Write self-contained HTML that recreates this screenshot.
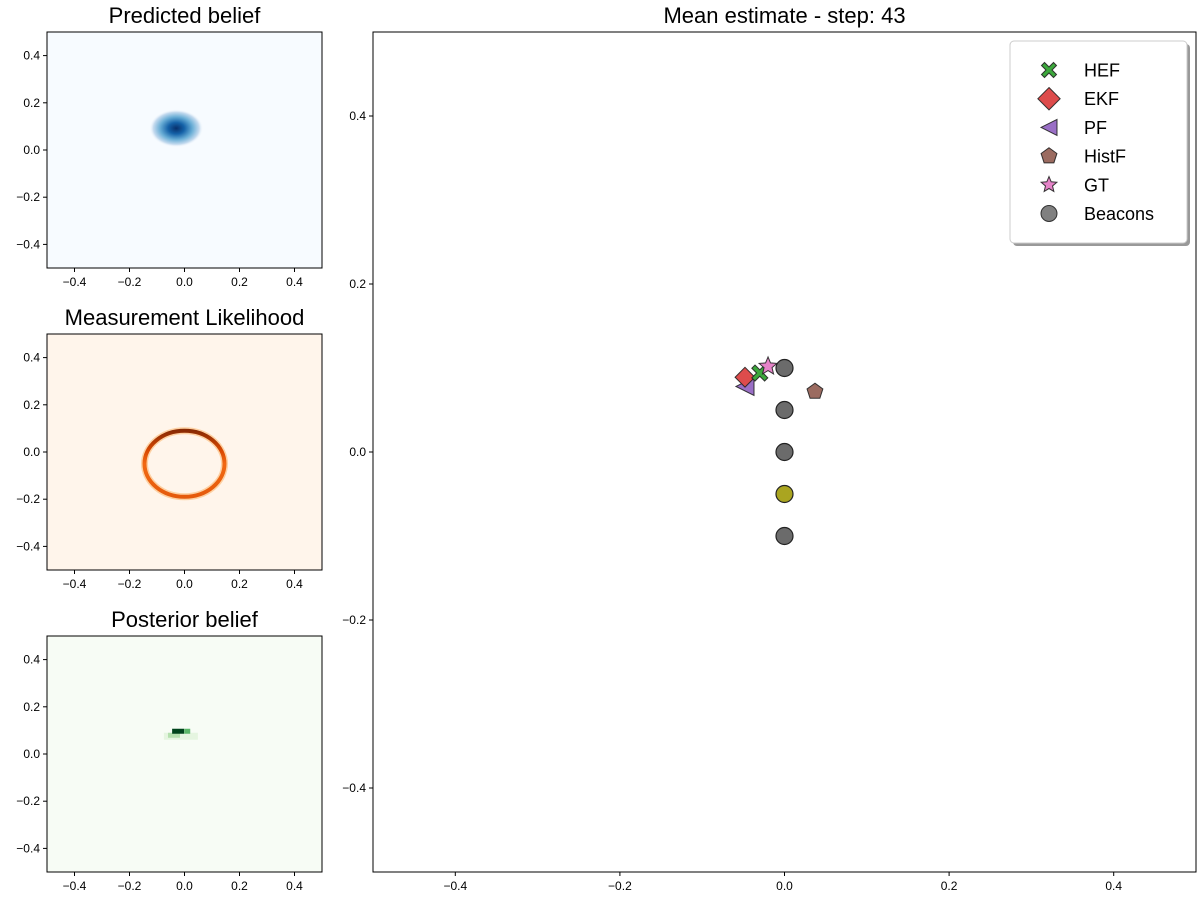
<!DOCTYPE html>
<html><head><meta charset="utf-8">
<style>
html,body{margin:0;padding:0;background:#fff;}
svg{display:block;font-family:"Liberation Sans","DejaVu Sans",sans-serif;}
</style></head>
<body>
<svg id="fig" width="1200" height="900" viewBox="0 0 1200 900" xmlns="http://www.w3.org/2000/svg">
<defs>
  <radialGradient id="gBlue" cx="50%" cy="50%" r="50%">
    <stop offset="0" stop-color="#08306b"/>
    <stop offset="0.3" stop-color="#1562a8"/>
    <stop offset="0.6" stop-color="#6aaed6"/>
    <stop offset="0.85" stop-color="#c6dbef"/>
    <stop offset="1" stop-color="#f7fbff" stop-opacity="0"/>
  </radialGradient>
  <linearGradient id="gRing" x1="0" y1="0" x2="0" y2="1">
    <stop offset="0" stop-color="#8a2a03"/>
    <stop offset="0.3" stop-color="#d94801"/>
    <stop offset="0.5" stop-color="#f16913"/>
    <stop offset="1" stop-color="#e55a0c"/>
  </linearGradient>
  <filter id="shadow" x="-10%" y="-10%" width="130%" height="130%">
    <feOffset dx="3" dy="3"/>
  </filter>
</defs>
<g id="root"></g>
</svg>
<script>
// ---- data ----
const smallTicks = [-0.4, -0.2, 0.0, 0.2, 0.4];
const smallTickLabels = ["\u22120.4", "\u22120.2", "0.0", "0.2", "0.4"];
const mainTicks = [-0.4, -0.2, 0.0, 0.2, 0.4];
const mainTickLabels = ["\u22120.4", "\u22120.2", "0.0", "0.2", "0.4"];
const filterNames = ["HEF", "EKF", "PF", "HistF", "GT"];
const filterX = [-0.030, -0.048, -0.048, 0.037, -0.020];
const filterY = [0.094, 0.089, 0.078, 0.072, 0.102];
const beaconX = [0, 0, 0, 0, 0];
const beaconY = [0.10, 0.05, 0.0, -0.05, -0.10];
const legendNames = ["HEF", "EKF", "PF", "HistF", "GT", "Beacons"];

const NS = "http://www.w3.org/2000/svg";
const root = document.getElementById("root");
function mk(tag, attrs, parent) {
  const e = document.createElementNS(NS, tag);
  for (const k in attrs) e.setAttribute(k, attrs[k]);
  (parent || root).appendChild(e);
  return e;
}

const panels = [
  {name: "predicted-belief", title: "Predicted belief", top: 32, bg: "#f7fbff"},
  {name: "measurement-likelihood", title: "Measurement Likelihood", top: 334, bg: "#fff5eb"},
  {name: "posterior-belief", title: "Posterior belief", top: 636, bg: "#f7fcf5"}
];
const SL = 47, SR = 322, SH = 236;
panels.forEach((p, i) => {
  const g = mk("g", {});
  
  
  const sx = v => SL + (v + 0.5) * (SR - SL);
  const sy = v => p.top + (0.5 - v) * SH;
  const bg = mk("rect", {x: SL, y: p.top, width: SR - SL, height: SH, fill: p.bg}, g);
  
  
  if (i === 0) {
    const b = mk("ellipse", {cx: sx(-0.03), cy: sy(0.092), rx: 27, ry: 19, fill: "url(#gBlue)"}, g);
    
    
  } else if (i === 1) {
    const r1 = mk("ellipse", {cx: sx(0.0), cy: sy(-0.05), rx: 40, ry: 33, fill: "none", stroke: "#fdd0a2", "stroke-width": 7}, g);
    
    
    const r = mk("ellipse", {cx: sx(0.0), cy: sy(-0.05), rx: 40, ry: 33, fill: "none", stroke: "url(#gRing)", "stroke-width": 4}, g);
    
    
  } else {
    const a = mk("rect", {x: sx(-0.075), y: sy(0.09), width: 34, height: 7, fill: "#e5f5e0"}, g);
    
    
    const c = mk("rect", {x: sx(-0.06), y: sy(0.09), width: 12, height: 5, fill: "#b5e0ae"}, g);
    
    
    const d = mk("rect", {x: sx(-0.045), y: sy(0.107), width: 12, height: 5, fill: "#00441b"}, g);
    
    
    const e2 = mk("rect", {x: sx(-0.001), y: sy(0.107), width: 6, height: 5, fill: "#5ab769"}, g);
    
    
  }
  const fr = mk("rect", {x: SL, y: p.top, width: SR - SL, height: SH, fill: "none", stroke: "#000", "stroke-width": 1}, g);
  
  
  const t = mk("text", {x: (SL + SR) / 2, y: p.top - 9, "text-anchor": "middle", "font-size": 22}, g);
  t.textContent = p.title;
  
  
  smallTicks.forEach((v, k) => {
    mk("line", {x1: sx(v), x2: sx(v), y1: p.top + SH, y2: p.top + SH + 4, stroke: "#000"}, g);
    const tx = mk("text", {x: sx(v), y: p.top + SH + 18, "text-anchor": "middle", "font-size": 12}, g);
    tx.textContent = smallTickLabels[k];
    
    
    mk("line", {x1: SL - 4, x2: SL, y1: sy(v), y2: sy(v), stroke: "#000"}, g);
    const ty = mk("text", {x: SL - 7, y: sy(v) + 4, "text-anchor": "end", "font-size": 12}, g);
    ty.textContent = smallTickLabels[k];
    
    
  });
});

const ML = 373, MR = 1196, MT = 32, MB = 872;
const mx = v => ML + (v + 0.5) * (MR - ML);
const my = v => MT + (0.5 - v) * (MB - MT);
const mg = mk("g", {});


const mf = mk("rect", {x: ML, y: MT, width: MR - ML, height: MB - MT, fill: "#fff", stroke: "#000"}, mg);


const mt = mk("text", {x: (ML + MR) / 2, y: MT - 9, "text-anchor": "middle", "font-size": 22}, mg);
mt.textContent = "Mean estimate - step: 43";


mainTicks.forEach((v, k) => {
  mk("line", {x1: mx(v), x2: mx(v), y1: MB, y2: MB + 4, stroke: "#000"}, mg);
  const tx = mk("text", {x: mx(v), y: MB + 18, "text-anchor": "middle", "font-size": 12}, mg);
  tx.textContent = mainTickLabels[k];
  
  
  mk("line", {x1: ML - 4, x2: ML, y1: my(v), y2: my(v), stroke: "#000"}, mg);
  const ty = mk("text", {x: ML - 7, y: my(v) + 4, "text-anchor": "end", "font-size": 12}, mg);
  ty.textContent = mainTickLabels[k];
  
  
});

function marker(type, cx, cy, s, parent) {
  const st = {stroke: "#222", "stroke-width": 1, "stroke-opacity": 0.9};
  let e;
  if (type === "HEF") {
    const a = s * 0.5, b = s * 0.2;
    const pts = [];
    const base = [[-b,0],[-a,-a+b],[-a+b,-a],[0,-b],[a-b,-a],[a,-a+b],[b,0],[a,a-b],[a-b,a],[0,b],[-a+b,a],[-a,a-b]];
    base.forEach(q => pts.push((cx + q[0]) + "," + (cy + q[1])));
    e = mk("polygon", Object.assign({points: pts.join(" "), fill: "#3ca83c"}, st), parent);
  } else if (type === "EKF") {
    const a = s * 0.62;
    e = mk("polygon", Object.assign({points: `${cx},${cy-a} ${cx+a},${cy} ${cx},${cy+a} ${cx-a},${cy}`, fill: "#dd4c4c"}, st), parent);
  } else if (type === "PF") {
    const a = s * 0.5;
    e = mk("polygon", Object.assign({points: `${cx-a},${cy} ${cx+a},${cy-a} ${cx+a},${cy+a}`, fill: "#9a6fc6"}, st), parent);
  } else if (type === "HistF") {
    const a = s * 0.52, pts = [];
    for (let k = 0; k < 5; k++) { const t = -Math.PI / 2 + k * 2 * Math.PI / 5; pts.push((cx + a * Math.cos(t)) + "," + (cy + a * Math.sin(t))); }
    e = mk("polygon", Object.assign({points: pts.join(" "), fill: "#9b6b60"}, st), parent);
  } else if (type === "GT") {
    const a = s * 0.55, b = a * 0.45, pts = [];
    for (let k = 0; k < 10; k++) { const r = k % 2 ? b : a; const t = -Math.PI / 2 + k * Math.PI / 5; pts.push((cx + r * Math.cos(t)) + "," + (cy + r * Math.sin(t))); }
    e = mk("polygon", Object.assign({points: pts.join(" "), fill: "#e583c8"}, st), parent);
  } else {
    e = mk("circle", Object.assign({cx: cx, cy: cy, r: s * 0.5, fill: "#6b6b6b"}, st), parent);
  }
  return e;
}

beaconX.forEach((v, i) => {
  const c = mk("circle", {cx: mx(v), cy: my(beaconY[i]), r: 8.5, fill: i === 3 ? "#aaa520" : "#6b6b6b", stroke: "#222", "stroke-width": 1.2}, mg);
  
  
});
[3, 2, 1, 0, 4].forEach(i => {
  const sz = {HEF: 16, EKF: 16, PF: 18, HistF: 16, GT: 17}[filterNames[i]];
  const e = marker(filterNames[i], mx(filterX[i]), my(filterY[i]), sz, mg);
  
  
});

const lg = mk("g", {});


mk("rect", {x: 1010, y: 41, width: 177, height: 202, rx: 4, fill: "#999", filter: "url(#shadow)"}, lg);
const lb = mk("rect", {x: 1010, y: 41, width: 177, height: 202, rx: 4, fill: "#fff", stroke: "#ccc"}, lg);


const lsz = {HEF: 15, EKF: 18, PF: 16, HistF: 16, GT: 15, Beacons: 16};
legendNames.forEach((n, i) => {
  const y = 70 + i * 28.7;
  const ge = mk("g", {}, lg);
  
  
  const m = marker(n === "Beacons" ? "B" : n, 1049, y, lsz[n], ge);
  if (n === "Beacons") m.setAttribute("fill", "#808080");
  const t = mk("text", {x: 1084, y: y + 6.5, "font-size": 18}, ge);
  t.textContent = n;
});
</script>
</body></html>
